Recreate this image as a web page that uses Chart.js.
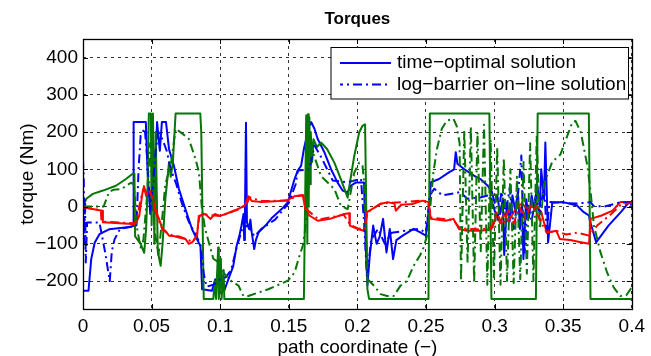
<!DOCTYPE html>
<html>
<head>
<meta charset="utf-8">
<script src="https://cdn.jsdelivr.net/npm/chart.js@4.4.1/dist/chart.umd.min.js"></script>
<style>
  html, body { margin: 0; padding: 0; background: #ffffff; }
  #wrap { width: 651px; height: 356px; }
</style>
</head>
<body>
<div id="wrap"><canvas id="c" width="651" height="356"></canvas></div>
<script>
// ---------- data ----------
const titleText = "Torques";
const xTitle = "path coordinate (\u2212)";
const yTitle = "torque (Nm)";
const legendLabels = ["time\u2212optimal solution", "log\u2212barrier on\u2212line solution"];
const xTicks = [0, 0.05, 0.1, 0.15, 0.2, 0.25, 0.3, 0.35, 0.4];
const yTicks = [-200, -100, 0, 100, 200, 300, 400];
const xRange = [0, 0.4];
const yRange = [-275, 450];

// time-optimal, joint 1 (blue, solid)
const blueOptX = [0,0.004,0.006,0.0085,0.012,0.019,0.034,0.0365,0.0369,0.0458,0.047,0.049,0.050,0.051,0.0525,0.054,0.056,0.0575,0.0605,0.0627,0.0663,0.0699,0.0747,0.0795,0.0831,0.0856,0.0868,0.094,0.0964,0.100,0.103,0.106,0.1095,0.112,0.114,0.1155,0.117,0.1175,0.118,0.1188,0.1195,0.121,0.122,0.123,0.1248,0.126,0.128,0.133,0.138,0.145,0.1494,0.151,0.1542,0.1566,0.159,0.161,0.1627,0.164,0.1663,0.1687,0.171,0.1759,0.1807,0.1855,0.1892,0.1928,0.1952,0.199,0.2048,0.206,0.2073,0.209,0.2115,0.214,0.2163,0.2187,0.2212,0.2236,0.226,0.2284,0.233,0.241,0.2458,0.25,0.2528,0.2535,0.2595,0.2667,0.2705,0.2717,0.2729,0.2777,0.2849,0.2897,0.295,0.298,0.300,0.302,0.304,0.306,0.307,0.309,0.311,0.313,0.315,0.317,0.3185,0.320,0.321,0.323,0.325,0.327,0.329,0.331,0.333,0.334,0.336,0.337,0.338,0.339,0.342,0.35,0.36,0.365,0.3688,0.3695,0.374,0.383,0.392,0.398,0.399,0.4];
const blueOptY = [-226,-226,-141,-97,-74,-61,-55,-52,227,227,100,-20,40,-10,100,227,150,227,227,154,109,47,-7,-61,-88,-106,-222,-226,-195,-215,-225,-195,-160,-105,-78,-51,-20,-90,-30,225,-42,-60,-35,-70,-114,-90,-69,-51,-29,-6,12,34,74,97,110,155,182,209,227,209,182,146,101,65,43,38,56,65,65,-100,-212,-132,-51,-100,-80,-33,-123,-60,-141,-90,-78,-60,-69,-78,20,65,74,92,100,146,115,101,83,74,56,40,10,30,-20,20,-130,10,-40,30,-10,40,-60,10,-141,20,-30,30,-10,60,0,100,20,172,40,-96,10,12,3,-15,-24,-38,-96,-51,-15,12,12,0,-20];

// time-optimal, joint 2 (green, solid)
const greenOptX = [0,0.0024,0.0072,0.0145,0.024,0.0313,0.0362,0.0375,0.038,0.040,0.042,0.0446,0.046,0.047,0.048,0.0495,0.050,0.051,0.052,0.053,0.0545,0.0566,0.058,0.060,0.0627,0.064,0.0655,0.0675,0.0855,0.0862,0.088,0.095,0.096,0.097,0.0985,0.099,0.1005,0.101,0.1025,0.103,0.161,0.1627,0.1635,0.164,0.1645,0.165,0.1655,0.166,0.167,0.168,0.1705,0.1735,0.178,0.1832,0.188,0.1929,0.1935,0.1977,0.2013,0.2037,0.2056,0.2073,0.2085,0.2518,0.2528,0.2962,0.2977,0.3301,0.3314,0.3687,0.3699,0.4];
const greenOptY = [0,21,34,43,56,74,88,88,-80,-90,-100,-124,-60,40,250,250,-50,250,-100,200,-120,-159,-100,20,118,80,120,250,250,200,-248,-248,-200,-248,-110,-248,-140,-248,-170,-248,-248,245,-100,248,0,240,60,200,120,181,160,172,154,118,73,24,40,136,199,217,221,-222,-248,-248,250,250,-248,-248,250,250,-248,-248];

// time-optimal, joint 3 (red, solid)
const redOptX = [0,0.014,0.0145,0.036,0.038,0.041,0.0434,0.0445,0.046,0.0475,0.0494,0.051,0.053,0.0555,0.0578,0.060,0.0627,0.066,0.070,0.0747,0.0771,0.0795,0.0831,0.0844,0.089,0.093,0.096,0.1,0.104,0.1133,0.118,0.1205,0.123,0.13,0.14,0.1494,0.1542,0.1602,0.162,0.165,0.1711,0.18,0.1904,0.194,0.1945,0.2,0.2048,0.207,0.2168,0.222,0.227,0.228,0.232,0.24,0.2475,0.2518,0.2535,0.2643,0.27,0.2741,0.28,0.29,0.2977,0.300,0.301,0.304,0.307,0.310,0.3168,0.32,0.324,0.33,0.334,0.3373,0.34,0.345,0.3475,0.355,0.362,0.3688,0.37,0.378,0.386,0.3916,0.4];
const redOptY = [-2,-11,-42,-47,-48,-25,38,55,28,46,40,20,-10,-34,-60,-65,-78,-79,-83,-87,-100,-96,-80,-25,-20,-33,-20,-25,-20,-6,3,28,15,12,14,18,28,31,-6,-24,-38,-33,-20,-18,-51,-60,-65,-15,7,12,8,-11,5,7,16,12,-33,-38,-33,-60,-65,-65,-60,-40,-15,-45,-20,-40,3,7,-5,3,-15,-60,-69,-65,-87,-90,-95,-100,-33,-24,-11,12,12];

// log-barrier on-line, joint 1 (blue, dash-dot)
const blueLbX = [0,0.0005,0.001,0.0015,0.002,0.003,0.012,0.016,0.0195,0.021,0.023,0.027,0.034,0.039,0.0405,0.042,0.045,0.047,0.049,0.051,0.053,0.055,0.058,0.061,0.064,0.068,0.072,0.077,0.082,0.0855,0.088,0.090,0.095,0.1,0.104,0.108,0.112,0.116,0.12,0.125,0.13,0.14,0.15,0.155,0.1566,0.165,0.1687,0.174,0.182,0.193,0.2026,0.205,0.207,0.21,0.215,0.22,0.225,0.235,0.245,0.25,0.2528,0.256,0.262,0.27,0.275,0.28,0.29,0.295,0.298,0.302,0.305,0.308,0.311,0.314,0.317,0.3195,0.3205,0.322,0.324,0.327,0.330,0.333,0.336,0.338,0.340,0.35,0.36,0.37,0.372,0.38,0.39,0.4];
const blueLbY = [127,80,-100,20,-150,-43,-43,-120,-200,-120,-88,-60,-55,-50,100,190,210,120,-10,60,150,200,180,150,100,60,10,-40,-75,-100,-180,-215,-210,-195,-190,-170,-110,-60,-50,-80,-60,-35,10,60,97,100,164,130,70,65,75,-50,-190,-90,-60,-100,-70,-65,-60,-70,30,48,30,35,39,21,25,30,20,-40,40,-20,50,-60,30,137,-20,-123,10,-40,30,-20,60,-69,12,10,8,12,2,0,10,12];

// log-barrier on-line, joint 2 (green, dash-dot)
const greenLbX = [0,0.015,0.019,0.022,0.028,0.0349,0.037,0.0395,0.042,0.044,0.0465,0.049,0.0505,0.052,0.055,0.0575,0.060,0.0639,0.0675,0.071,0.0771,0.082,0.0845,0.0867,0.089,0.092,0.095,0.099,0.103,0.108,0.1133,0.1169,0.1205,0.135,0.1494,0.1542,0.1578,0.1602,0.162,0.1634,0.1651,0.167,0.169,0.1735,0.1832,0.188,0.1929,0.1977,0.2013,0.2037,0.2049,0.2065,0.2075,0.2122,0.2169,0.2217,0.2265,0.2313,0.236,0.241,0.2458,0.2482,0.2506,0.2528,0.2554,0.258,0.2615,0.2653,0.27,0.2723,0.2745,0.2755,0.2779,0.2803,0.2827,0.2851,0.2875,0.2899,0.2923,0.2947,0.2971,0.2995,0.3019,0.3043,0.3067,0.3091,0.3115,0.3139,0.3163,0.3187,0.3211,0.3235,0.3259,0.3283,0.3307,0.333,0.336,0.342,0.348,0.354,0.3566,0.359,0.3628,0.3676,0.37,0.3724,0.3772,0.382,0.3868,0.3916,0.396,0.4];
const greenLbY = [0,0,39,45,47,64,60,-60,-110,-90,20,170,60,-60,-130,-40,60,110,209,200,182,128,92,-6,-60,-100,-140,-150,-180,-200,-212,-240,-240,-222,-199,-177,-132,-105,-60,3,109,154,130,82,47,2,-7,91,118,110,64,-100,-195,-213,-235,-240,-240,-213,-200,-159,-130,-110,-80,-15,92,155,209,231,236,217,170,-200,205,-150,215,-205,200,-120,220,-210,180,-190,160,-210,130,-200,100,-205,80,-195,120,-180,170,-200,190,-60,60,120,140,200,226,230,200,110,39,-51,-123,-177,-217,-240,-238,-217];

// log-barrier on-line, joint 3 (red, dash-dot)
const redLbX = [0,0.013,0.0135,0.037,0.039,0.042,0.0445,0.0465,0.048,0.0505,0.053,0.0555,0.058,0.063,0.07,0.0771,0.0795,0.083,0.0848,0.09,0.1,0.113,0.119,0.1215,0.13,0.15,0.155,0.1605,0.163,0.172,0.19,0.195,0.2,0.205,0.2075,0.217,0.2475,0.2515,0.254,0.27,0.2745,0.29,0.2977,0.302,0.306,0.310,0.314,0.318,0.322,0.327,0.331,0.335,0.338,0.345,0.352,0.36,0.3688,0.375,0.385,0.392,0.4];
const redLbY = [-2,-10,-40,-45,-40,20,50,30,45,25,-15,-40,-62,-75,-80,-90,-95,-78,-25,-22,-25,-8,5,25,15,16,28,30,-8,-35,-22,-50,-58,-62,-15,8,16,10,-30,-36,-58,-62,-55,-20,-50,-10,-45,0,-30,5,-20,-50,-70,-65,-75,-70,-78,-50,-20,5,10];

// ---------- chart ----------
const FONT = "'Liberation Sans', Arial, Helvetica, sans-serif";
const BLUE = '#0000ff', GREEN = '#077507', RED = '#ff0000';
const DASHDOT = [9, 4, 2, 4];
const pts = (xs, ys) => xs.map((x, i) => ({x: x, y: ys[i]}));

function ds(label, xs, ys, color, dashed, order) {
  return {
    label: label, data: pts(xs, ys), showLine: true, borderColor: color,
    backgroundColor: color, borderWidth: 2, pointRadius: 0, pointHoverRadius: 0,
    tension: 0, fill: false, borderDash: dashed ? DASHDOT : [], order: order,
    borderJoinStyle: 'round'
  };
}

const framePlugin = {
  id: 'frame',
  afterDraw(chart) {
    const ctx = chart.ctx, a = chart.chartArea;
    const xs = chart.scales.x, ys = chart.scales.y;
    ctx.save();
    ctx.strokeStyle = '#000'; ctx.lineWidth = 1; ctx.setLineDash([]);
    // inward tick marks on all four sides
    const tl = 5;
    ctx.beginPath();
    xTicks.forEach(v => {
      const p = Math.round(xs.getPixelForValue(v)) + 0.5;
      ctx.moveTo(p, a.bottom); ctx.lineTo(p, a.bottom - tl);
      ctx.moveTo(p, a.top); ctx.lineTo(p, a.top + tl);
    });
    yTicks.forEach(v => {
      const p = Math.round(ys.getPixelForValue(v)) + 0.5;
      ctx.moveTo(a.left, p); ctx.lineTo(a.left + tl, p);
      ctx.moveTo(a.right, p); ctx.lineTo(a.right - tl, p);
    });
    ctx.stroke();
    // box
    ctx.lineWidth = 1.3;
    ctx.strokeRect(Math.round(a.left) + 0.5, Math.round(a.top) + 0.5,
                   Math.round(a.right - a.left), Math.round(a.bottom - a.top));
    // title
    ctx.fillStyle = '#000';
    ctx.font = 'bold 17px ' + FONT;
    ctx.textAlign = 'center'; ctx.textBaseline = 'middle';
    ctx.fillText(titleText, (a.left + a.right) / 2, 19);
    // legend
    const L = 331, T = 47.5, R = 628.5, B = 99;
    ctx.fillStyle = '#fff';
    ctx.fillRect(L, T, R - L, B - T);
    ctx.lineWidth = 1; ctx.strokeStyle = '#000';
    ctx.strokeRect(L, T, R - L, B - T);
    const rows = [63, 84.5];
    ctx.strokeStyle = BLUE; ctx.lineWidth = 2;
    ctx.setLineDash([]);
    ctx.beginPath(); ctx.moveTo(340, rows[0]); ctx.lineTo(391, rows[0]); ctx.stroke();
    ctx.setLineDash(DASHDOT); ctx.lineDashOffset = 6;
    ctx.beginPath(); ctx.moveTo(340, rows[1]); ctx.lineTo(391, rows[1]); ctx.stroke();
    ctx.setLineDash([]);
    ctx.fillStyle = '#000'; ctx.font = '19px ' + FONT;
    ctx.textAlign = 'left'; ctx.textBaseline = 'middle';
    ctx.fillText(legendLabels[0], 397, rows[0]);
    ctx.fillText(legendLabels[1], 397, rows[1]);
    ctx.restore();
  }
};

new Chart(document.getElementById('c'), {
  type: 'scatter',
  data: {
    datasets: [
      ds(legendLabels[0], blueOptX, blueOptY, BLUE, false, 6),
      ds('time-optimal joint 2', greenOptX, greenOptY, GREEN, false, 5),
      ds('time-optimal joint 3', redOptX, redOptY, RED, false, 4),
      ds(legendLabels[1], blueLbX, blueLbY, BLUE, true, 3),
      ds('log-barrier joint 2', greenLbX, greenLbY, GREEN, true, 2),
      ds('log-barrier joint 3', redLbX, redLbY, RED, true, 1)
    ]
  },
  options: {
    responsive: false, animation: false, devicePixelRatio: 1,
    layout: { padding: { top: 39, right: 14, bottom: 0, left: 0 } },
    plugins: { legend: { display: false }, tooltip: { enabled: false }, title: { display: false } },
    scales: {
      x: {
        type: 'linear', min: xRange[0], max: xRange[1],
        afterBuildTicks: s => { s.ticks = xTicks.map(v => ({value: v})); },
        afterFit: s => { s.height = 47; },
        ticks: { padding: 6, color: '#000', font: { family: FONT, size: 19 }, maxRotation: 0, autoSkip: false,
                 callback: v => String(v) },
        grid: { color: '#000', lineWidth: 0.8, drawTicks: false },
        border: { display: false, dash: [3, 4] },
        title: { display: true, text: xTitle, color: '#000', font: { family: FONT, size: 19, lineHeight: 0.9 }, padding: 0 }
      },
      y: {
        type: 'linear', min: yRange[0], max: yRange[1],
        afterBuildTicks: s => { s.ticks = yTicks.map(v => ({value: v})); },
        afterFit: s => { s.width = 83; },
        ticks: { padding: 5, color: '#000', font: { family: FONT, size: 19 }, autoSkip: false,
                 callback: v => (v < 0 ? '\u2212' + Math.abs(v) : String(v)) },
        grid: { color: '#000', lineWidth: 0.8, drawTicks: false },
        border: { display: false, dash: [3, 4] },
        title: { display: true, text: yTitle, color: '#000', font: { family: FONT, size: 19, lineHeight: 1 }, padding: { top: 18, bottom: 0 } }
      }
    }
  },
  plugins: [framePlugin]
});
</script>
</body>
</html>
